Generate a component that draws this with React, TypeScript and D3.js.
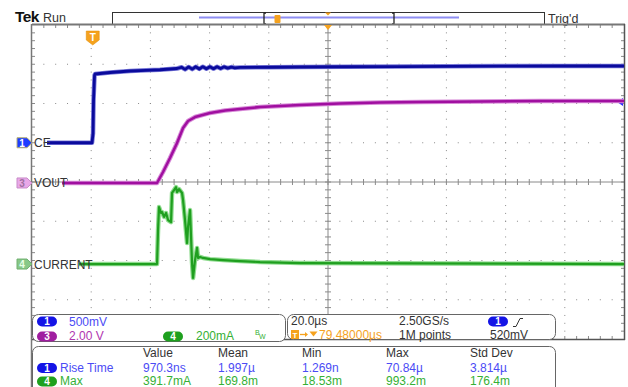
import React from "react";
import * as d3 from "d3";

const W = 628;
const H = 387;

// ---- acquisition settings ----
const timePerDiv = 20; // µs/div
const triggerDelay = 79.48; // µs (center of screen relative to trigger)
const ch1Scale = 0.5; // V/div
const ch3Scale = 2.0; // V/div
const ch4Scale = 200; // mA/div
const ch1Offset = 1.0; // divisions
const ch3Offset = -0.025;
const ch4Offset = -2.09;
const trigLevel = 0.52; // V

// ---- CH1 : CE (time µs, volts) ----
const ceTime = [-15.45, -0.24, 0.1, 0.27, 0.61, 0.78, 5.84, 12.6, 18.0, 22.7, 28.5,
  30.0, 31.2, 32.4, 33.6, 34.8, 36.0, 37.2, 38.4, 39.6, 40.8, 42.0, 43.2, 44.4, 45.6, 46.8, 48.0,
  49.8, 60.0, 70.0, 85.0, 103.8, 120.0, 137.6, 160.0, 179.5];
const ceVolts = [0.0, 0.0, 0.12, 0.545, 0.86, 0.876, 0.895, 0.914, 0.922, 0.93, 0.946,
  0.962, 0.935, 0.966, 0.938, 0.968, 0.94, 0.969, 0.942, 0.968, 0.944, 0.968, 0.946, 0.967, 0.95, 0.964, 0.955,
  0.959, 0.962, 0.965, 0.968, 0.971, 0.974, 0.977, 0.978, 0.978];

// ---- CH3 : VOUT (time µs, volts) ----
const voutTime = [-10.37, 21.72, 23.75, 26.11, 28.48, 30.51, 32.2, 34.57, 39.64, 44.7, 49.77,
  56.53, 63.29, 70.04, 83.56, 97.07, 110.6, 130.9, 151.2, 179.5];
const voutVolts = [0.0, 0.0, 0.56, 1.27, 2.04, 2.8, 3.16, 3.36, 3.57, 3.69, 3.77,
  3.87, 3.92, 3.97, 4.05, 4.1, 4.13, 4.15, 4.18, 4.18];

// ---- CH4 : CURRENT (time µs, mA) ----
const curTime = [-4.63, 21.72, 22.06, 22.4, 23.07, 23.41, 24.09, 24.77, 25.44, 26.45, 26.79,
  27.47, 28.14, 28.48, 29.16, 30.17, 30.51, 31.18, 31.86, 32.2, 32.87, 33.21, 33.55, 33.89,
  34.56, 35.24, 35.58, 36.25, 37.27, 39.64, 44.03, 49.77, 56.53, 70.04, 179.5];
const curMilliAmps = [0, 0, 173, 290, 260, 265, 240, 260, 224, 214, 362,
  377, 392, 367, 382, 362, 326, 224, 107, 189, 275, 138, 5, -71,
  20, 82, 31, 36, 31, 25, 20, 15, 10, 5, 0];

// ---- readouts ----
const measHeaders = ["Value", "Mean", "Min", "Max", "Std Dev"];
const riseTimeRow = ["970.3ns", "1.997µ", "1.269n", "70.84µ", "3.814µ"];
const maxRow = ["391.7mA", "169.8m", "18.53m", "993.2m", "176.4m"];
const measCols = [143, 218, 302, 386, 470];

const FONT = "'Liberation Sans', Arial, sans-serif";
const BLUE_T = "#4b4bf5";
const MAG_T = "#b035b0";
const GRN_T = "#35b035";
const ORANGE = "#f5a21e";
const GRAY = "#8a8a8a";

const X0 = 32, X1 = 624, Y0 = 25, Y1 = 339;

export default function App() {
  const x = d3.scaleLinear()
    .domain([triggerDelay - 5 * timePerDiv, triggerDelay + 5 * timePerDiv])
    .range([X0, X1]);
  const y = d3.scaleLinear().domain([-4, 4]).range([Y1, Y0]);
  const ch1 = (v: number) => y(ch1Offset + v / ch1Scale);
  const ch3 = (v: number) => y(ch3Offset + v / ch3Scale);
  const ch4 = (v: number) => y(ch4Offset + v / ch4Scale);

  const mk = (ts: number[], vs: number[], f: (v: number) => number) =>
    d3.line<number>().x((_, i) => x(ts[i])).y((_, i) => f(vs[i])).curve(d3.curveLinear)(ts) || "";

  const cePath = mk(ceTime, ceVolts, ch1);
  const voutPath = mk(voutTime, voutVolts, ch3);
  const curPath = mk(curTime, curMilliAmps, ch4);

  const dx = (X1 - X0) / 10;
  const dy = (Y1 - Y0) / 8;
  const cx = X0 + 5 * dx;
  const cy = Y0 + 4 * dy;

  const dots: JSX.Element[] = [];
  d3.range(1, 10).forEach((i) => {
    if (i === 5) return;
    const gx = X0 + i * dx;
    d3.range(1, 40).forEach((j) => {
      const gy = Y0 + (j * dy) / 5;
      dots.push(<rect key={`v${i}-${j}`} x={gx - 0.5} y={gy - 0.5} width={1} height={1} fill={GRAY} />);
    });
  });
  d3.range(1, 8).forEach((k) => {
    if (k === 4) return;
    const gy = Y0 + k * dy;
    d3.range(1, 50).forEach((j) => {
      const gx = X0 + (j * dx) / 5;
      dots.push(<rect key={`h${k}-${j}`} x={gx - 0.5} y={gy - 0.5} width={1} height={1} fill={GRAY} />);
    });
  });

  const ticks: JSX.Element[] = [];
  d3.range(1, 50).forEach((j) => {
    const tx = X0 + (j * dx) / 5;
    ticks.push(<line key={`ct${j}`} x1={tx} x2={tx} y1={cy - 3} y2={cy + 3} stroke={GRAY} />);
    ticks.push(<line key={`tt${j}`} x1={tx} x2={tx} y1={Y0} y2={Y0 + 3} stroke={GRAY} />);
    ticks.push(<line key={`bt${j}`} x1={tx} x2={tx} y1={Y1 - 3} y2={Y1} stroke={GRAY} />);
  });
  d3.range(1, 40).forEach((j) => {
    const ty = Y0 + (j * dy) / 5;
    ticks.push(<line key={`cv${j}`} x1={cx - 3} x2={cx + 3} y1={ty} y2={ty} stroke={GRAY} />);
    ticks.push(<line key={`lv${j}`} x1={X0} x2={X0 + 3} y1={ty} y2={ty} stroke={GRAY} />);
    ticks.push(<line key={`rv${j}`} x1={X1 - 3} x2={X1} y1={ty} y2={ty} stroke={GRAY} />);
  });

  const pill = (px: number, py: number, fill: string, label: string, key: string) => (
    <g key={key}>
      <rect x={px} y={py} width={20} height={10} rx={5} fill={fill} />
      <text x={px + 10} y={py + 8.6} fontSize={10} fontWeight="bold" fill="#fff" textAnchor="middle" fontFamily={FONT}>{label}</text>
    </g>
  );

  const chanTag = (ty: number, fill: string, stroke: string, label: string, tc: string) => (
    <g>
      <path d={`M17,${ty - 5} h10 l5,5 l-5,5 h-10 z`} fill={fill} stroke={stroke} strokeWidth={1} />
      <text x={22} y={ty + 4} fontSize={10} fill={tc} textAnchor="middle" fontFamily={FONT} fontWeight="bold">{label}</text>
    </g>
  );

  const trigX = x(0);
  const trigY = ch1(trigLevel);
  const FS = 12;

  return (
    <svg width={W} height={H} style={{ position: "absolute", left: 0, top: 0, background: "#fff" }} fontFamily={FONT}>
      <rect x={0} y={0} width={W} height={H} fill="#fff" />
      {/* header */}
      <text x={15} y={22} fontSize={15.5} fontWeight="bold" fill="#111" letterSpacing={-0.6}>Tek</text>
      <text x={43} y={22} fontSize={12.5} fill="#333">Run</text>
      <rect x={112.5} y={12.5} width={432} height={12} fill="#fff" stroke="#333" />
      <line x1={199} x2={459} y1={17.5} y2={17.5} stroke="#8e8ef2" strokeWidth={2} />
      <path d="M266,13 h-2 v11 h2" fill="none" stroke="#222" strokeWidth={1.3} />
      <path d="M392,13 h2 v11 h-2" fill="none" stroke="#222" strokeWidth={1.3} />
      <rect x={274.5} y={15} width={6} height={8} rx={1} fill={ORANGE} />
      <path d={`M${cx - 3},12.5 h6 l-3,3 z`} fill={ORANGE} />
      <text x={548} y={23} fontSize={12.5} fill="#333">Trig'd</text>

      {/* graticule */}
      {dots}
      {ticks}
      <line x1={X0} x2={X1} y1={cy} y2={cy} stroke={GRAY} />
      <line x1={cx} x2={cx} y1={Y0} y2={Y1} stroke={GRAY} />
      <line x1={X0} x2={X1 + 1} y1={Y0 - 0.5} y2={Y0 - 0.5} stroke="#777" strokeWidth={2} />
      <line x1={X1 + 0.5} x2={X1 + 0.5} y1={Y0 - 1} y2={Y1 + 1} stroke="#555" strokeWidth={1.5} />
      <line x1={X0 - 0.5} x2={X0 - 0.5} y1={Y0 - 1} y2={H} stroke="#777" strokeWidth={1.5} />
      <line x1={X0} x2={X1 + 1} y1={Y1 + 0.5} y2={Y1 + 0.5} stroke="#555" strokeWidth={1.5} />

      {/* markers */}
      <path d={`M${cx - 4},${Y0} h8 l-4,5 z`} fill={ORANGE} />
      <path d={`M${trigX - 6.5},31 h13 v9 l-6.5,5 l-6.5,-5 z`} fill={ORANGE} stroke="#e08a00" strokeWidth={0.5} />
      <text x={trigX} y={41} fontSize={10} fontWeight="bold" fill="#fff" textAnchor="middle">T</text>
      <path d={`M${X1 - 7},${trigY} l6,-4 v8 z`} fill="#2a2aff" />

      {/* waveforms */}
      <path d={voutPath} fill="none" stroke="#d78ad7" strokeWidth={4.5} strokeLinejoin="round" />
      <path d={voutPath} fill="none" stroke="#a00fa0" strokeWidth={2.5} strokeLinejoin="round" />
      <path d={curPath} fill="none" stroke="#8edb8e" strokeWidth={4.5} strokeLinejoin="round" />
      <path d={curPath} fill="none" stroke="#1f9f1f" strokeWidth={2.2} strokeLinejoin="round" />
      <path d={cePath} fill="none" stroke="#7a7ad8" strokeWidth={4.5} strokeLinejoin="round" />
      <path d={cePath} fill="none" stroke="#0a0a9c" strokeWidth={2.8} strokeLinejoin="round" />

      {/* channel tags */}
      {chanTag(ch1(0), "#1e3cff", "#b8b070", "1", "#fff")}
      <text x={34} y={ch1(0) + 4.5} fontSize={FS} fill="#333">CE</text>
      {chanTag(ch3(0), "#e8a8e8", "#c88ac8", "3", "#a070a0")}
      <text x={34} y={ch3(0) + 4.5} fontSize={FS} fill="#333">VOUT</text>
      {chanTag(ch4(0), "#88c888", "#70b070", "4", "#e8ffe8")}
      <text x={34} y={ch4(0) + 4.5} fontSize={FS} fill="#333">CURRENT</text>

      {/* readout box 1 */}
      <rect x={32.5} y={314.5} width={253} height={27} rx={6} fill="#fff" stroke="#666" />
      {pill(37, 316.5, "#1414e6", "1", "p1")}
      <text x={69} y={325.5} fontSize={FS} fill={BLUE_T}>500mV</text>
      {pill(37, 331.5, "#a01ea0", "3", "p3")}
      <text x={69} y={340} fontSize={FS} fill={MAG_T}>2.00 V</text>
      {pill(163, 331.5, "#1ea01e", "4", "p4")}
      <text x={196} y={340} fontSize={FS} fill={GRN_T}>200mA</text>
      <text x={255} y={335} fontSize={7} fill={GRN_T}>B</text>
      <text x={259} y={339} fontSize={7} fill={GRN_T}>W</text>

      {/* readout box 2 */}
      <rect x={287.5} y={314.5} width={268} height={25} rx={6} fill="#fff" stroke="#666" />
      <text x={291} y={325} fontSize={FS} fill="#333">20.0µs</text>
      <text x={399} y={325} fontSize={FS} fill="#333">2.50GS/s</text>
      {pill(488, 316.5, "#1414e6", "1", "p1b")}
      <path d="M513,326.5 h3 l4,-8 h3" fill="none" stroke="#333" strokeWidth={1} />
      <rect x={291} y={330} width={8} height={9} fill={ORANGE} />
      <text x={295} y={338} fontSize={8} fontWeight="bold" fill="#fff" textAnchor="middle">T</text>
      <path d="M300,334.5 h6" stroke={ORANGE} strokeWidth={1.3} />
      <path d="M305,332 l3,2.5 l-3,2.5 z" fill={ORANGE} />
      <path d="M309.5,331.5 h8 l-4,5 z" fill={ORANGE} />
      <text x={319} y={338.5} fontSize={FS} fill={ORANGE}>79.48000µs</text>
      <text x={399} y={338.5} fontSize={FS} fill="#333">1M points</text>
      <text x={490} y={338.5} fontSize={FS} fill="#333">520mV</text>

      {/* measurement box */}
      <rect x={32.5} y={346.5} width={523} height={60} rx={6} fill="#fff" stroke="#666" />
      {measHeaders.map((h, i) => (
        <text key={h} x={measCols[i]} y={357} fontSize={FS} fill="#333">{h}</text>
      ))}
      {pill(37, 363, "#1414e6", "1", "m1")}
      <text x={60} y={371.5} fontSize={FS} fill={BLUE_T}>Rise Time</text>
      {riseTimeRow.map((v, i) => (
        <text key={"r" + i} x={measCols[i]} y={371.5} fontSize={FS} fill={BLUE_T}>{v}</text>
      ))}
      {pill(37, 376.5, "#1ea01e", "4", "m4")}
      <text x={60} y={385} fontSize={FS} fill={GRN_T}>Max</text>
      {maxRow.map((v, i) => (
        <text key={"m" + i} x={measCols[i]} y={385} fontSize={FS} fill={GRN_T}>{v}</text>
      ))}
    </svg>
  );
}
